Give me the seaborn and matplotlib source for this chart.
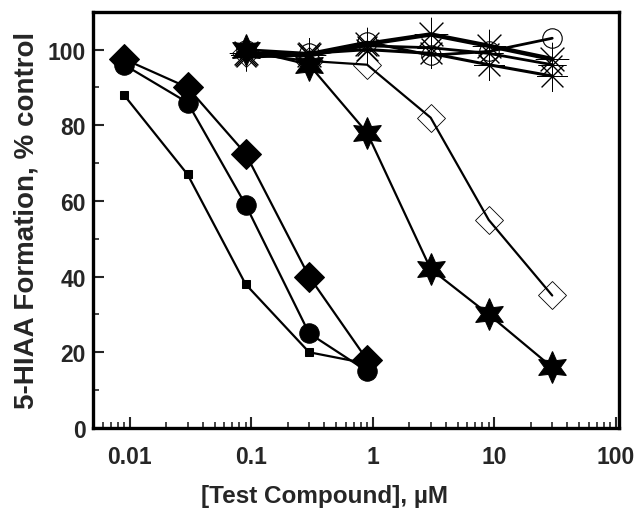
import numpy as np
import pandas as pd
import matplotlib
matplotlib.use("Agg")
import matplotlib.pyplot as plt
import seaborn as sns
from matplotlib.ticker import LogLocator, FixedLocator, MultipleLocator, FuncFormatter

sns.set_style("ticks")
plt.rcParams['font.family'] = ['Liberation Sans', 'DejaVu Sans']
plt.rcParams['font.weight'] = 'bold'

# concentrations (uM)
conc_low = [0.009, 0.03, 0.09, 0.3, 0.9]
conc_high = [0.09, 0.3, 0.9, 3, 9, 30]

# % control values
square_vals = [88, 67, 38, 20, 17]
circle_vals = [96, 86, 59, 25, 15]
diamond_vals = [97.5, 90, 72.5, 40, 18]
star_vals = [100, 96, 78, 42, 30, 16]
open_diamond_vals = [99, 97, 96, 82, 55, 35]
thick_ast_vals = [99, 98.5, 101.5, 104, 101, 97.5]
open_circle_vals = [100, 99, 102, 98.5, 99.5, 103]
ast_a_vals = [98, 98.5, 101, 100.5, 99, 96]
ast_b_vals = [98.5, 99, 100, 99, 96, 93]

series = {
    'square': (conc_low, square_vals),
    'circle': (conc_low, circle_vals),
    'diamond': (conc_low, diamond_vals),
    'star': (conc_high, star_vals),
    'open_diamond': (conc_high, open_diamond_vals),
    'ast_b': (conc_high, ast_b_vals),
    'ast_a': (conc_high, ast_a_vals),
    'open_circle': (conc_high, open_circle_vals),
    'thick_ast': (conc_high, thick_ast_vals),
}

frames = []
for name, (xs, ys) in series.items():
    frames.append(pd.DataFrame({'conc': xs, 'pct': ys, 'compound': name}))
df = pd.concat(frames, ignore_index=True)

asterisk = (8, 2, 0)
styles = {
    'square': dict(marker='s', ms=6, mfc='black', mec='black', lw=1.6),
    'circle': dict(marker='o', ms=14, mfc='black', mec='black', lw=1.6),
    'diamond': dict(marker='D', ms=15.5, mfc='black', mec='black', lw=1.6),
    'star': dict(marker=(6, 1, 0), ms=23, mfc='black', mec='black', lw=1.6),
    'open_diamond': dict(marker='D', ms=14, mfc='none', mec='black', mew=0.6, lw=1.6),
    'ast_b': dict(marker=asterisk, ms=22, mfc='none', mec='black', mew=0.7, lw=2.2),
    'ast_a': dict(marker=asterisk, ms=20, mfc='none', mec='black', mew=0.7, lw=2.0),
    'open_circle': dict(marker='o', ms=14, mfc='none', mec='black', mew=0.8, lw=2.0),
    'thick_ast': dict(marker=asterisk, ms=24, mfc='none', mec='black', mew=0.7, lw=3.2),
}

fig = plt.figure(figsize=(6.39, 5.10), dpi=100)
ax = fig.add_axes([0.1455, 0.159, 0.823, 0.816])

for name in series:
    sub = df[df['compound'] == name]
    sns.lineplot(data=sub, x='conc', y='pct', color='black', ax=ax,
                 legend=False, **styles[name])

ax.set_xscale('log')
ax.set_xlim(0.005, 106)
ax.set_ylim(0, 110)

ax.xaxis.set_major_locator(FixedLocator([0.01, 0.1, 1, 10, 100]))
ax.xaxis.set_minor_locator(LogLocator(base=10, subs=np.arange(2, 10), numticks=20))
ax.xaxis.set_major_formatter(FuncFormatter(lambda v, p: f'{v:g}'))
ax.yaxis.set_major_locator(MultipleLocator(20))
ax.yaxis.set_minor_locator(MultipleLocator(10))

ax.tick_params(which='major', direction='in', length=8, width=1.5, labelsize=16.5)
ax.tick_params(axis='x', which='major', pad=12)
ax.tick_params(axis='y', which='major', pad=5)
ax.tick_params(which='minor', direction='in', length=4, width=1.2)
for lab in ax.get_xticklabels() + ax.get_yticklabels():
    lab.set_fontweight('bold')

for sp in ax.spines.values():
    sp.set_linewidth(2.4)
    sp.set_color('black')

ax.set_xlabel('[Test Compound], µM', fontsize=17.5, fontweight='bold', labelpad=12)
ax.xaxis.set_label_coords(0.44, -0.135)
ax.set_ylabel('5-HIAA Formation, % control', fontsize=20, fontweight='bold', labelpad=6)

fig.savefig('out.png', dpi=100)
